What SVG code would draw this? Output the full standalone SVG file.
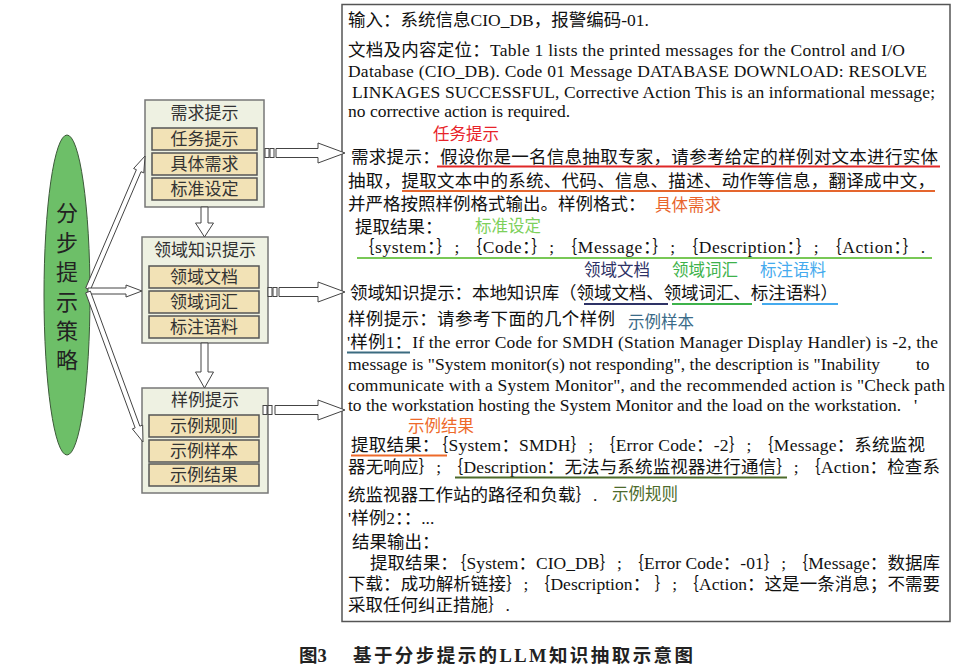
<svg xmlns="http://www.w3.org/2000/svg" width="975" height="671" viewBox="0 0 975 671">
<style>
.t{font-family:"Liberation Serif","Noto Sans CJK SC",serif;font-size:17.5px;fill:#111}
.lb{font-family:"Noto Sans CJK SC",sans-serif;font-size:16.5px}
.bx{font-family:"Liberation Serif","Noto Sans CJK SC",serif;font-size:17px;fill:#333;text-anchor:middle}
.outer{fill:#eef1e2;stroke:#777;stroke-width:1.5}
.sub{fill:#f2e2b6;stroke:#555;stroke-width:1.5}
.arr{fill:#fff;stroke:#444;stroke-width:1}
.ul{stroke-width:2;fill:none}
.cap{font-family:"Liberation Serif","Noto Sans CJK SC",serif;font-size:18.5px;font-weight:bold;fill:#222}
</style>
<rect width="975" height="671" fill="#fff"/>

<g id="strategy">
<ellipse cx="67" cy="295" rx="23" ry="160" fill="#6dbf68" stroke="#3d5a3a" stroke-width="1"/>
<g font-family="Liberation Serif,Noto Sans CJK SC,serif" font-size="22" fill="#222" text-anchor="middle">
<text x="67" y="221">分</text>
<text x="67" y="251">步</text>
<text x="67" y="280">提</text>
<text x="67" y="310">示</text>
<text x="67" y="339">策</text>
<text x="67" y="368">略</text>
</g>
</g>

<g id="box-demand">
<rect class="outer" x="145" y="100" width="119" height="107"/>
<text class="bx" x="204.5" y="119">需求提示</text>
<rect class="sub" x="152" y="128" width="105" height="22"/>
<text class="bx" x="204.5" y="145">任务提示</text>
<rect class="sub" x="152" y="153" width="105" height="22"/>
<text class="bx" x="204.5" y="170">具体需求</text>
<rect class="sub" x="152" y="178" width="105" height="22"/>
<text class="bx" x="204.5" y="195">标准设定</text>
</g>

<g id="box-domain">
<rect class="outer" x="142" y="237" width="126" height="106"/>
<text class="bx" x="205" y="256">领域知识提示</text>
<rect class="sub" x="149" y="266" width="110" height="22"/>
<text class="bx" x="204" y="283">领域文档</text>
<rect class="sub" x="149" y="291" width="110" height="22"/>
<text class="bx" x="204" y="308">领域词汇</text>
<rect class="sub" x="149" y="316" width="110" height="22"/>
<text class="bx" x="204" y="333">标注语料</text>
</g>

<g id="box-example">
<rect class="outer" x="142" y="388" width="126" height="105"/>
<text class="bx" x="205" y="406">样例提示</text>
<rect class="sub" x="149" y="415" width="110" height="22"/>
<text class="bx" x="204" y="432">示例规则</text>
<rect class="sub" x="149" y="440" width="110" height="22"/>
<text class="bx" x="204" y="457">示例样本</text>
<rect class="sub" x="149" y="464" width="110" height="22"/>
<text class="bx" x="204" y="481">示例结果</text>
</g>

<g id="prompt-text">
<rect x="342" y="4.5" width="608" height="617" fill="#fff" stroke="#555" stroke-width="1.5"/>
<text class="t" x="348" y="26">输入：系统信息CIO_DB，报警编码-01.</text>
<text class="t" x="348" y="56" textLength="557" lengthAdjust="spacing">文档及内容定位：Table 1 lists the printed messages for the Control and I/O</text>
<text class="t" x="348" y="77" textLength="579" lengthAdjust="spacing">Database  (CIO_DB). Code 01 Message DATABASE DOWNLOAD: RESOLVE</text>
<text class="t" x="352" y="98" textLength="583" lengthAdjust="spacing">LINKAGES SUCCESSFUL, Corrective Action This is an informational message;</text>
<text class="t" x="348" y="117">no corrective action is required.</text>
<text class="lb" x="433" y="140" fill="#e8232a">任务提示</text>
<text class="t" x="351" y="163" textLength="587" lengthAdjust="spacing">需求提示：假设你是一名信息抽取专家，请参考给定的样例对文本进行实体</text>
<line class="ul" x1="437" y1="166.5" x2="940" y2="166.5" stroke="#e02828"/>
<text class="t" x="348" y="187" textLength="587" lengthAdjust="spacing">抽取，提取文本中的系统、代码、信息、描述、动作等信息，翻译成中文，</text>
<line class="ul" x1="402" y1="191" x2="935" y2="191" stroke="#e5662e"/>
<text class="t" x="348" y="210">并严格按照样例格式输出。样例格式：</text>
<text class="lb" x="655" y="211" fill="#e8642c">具体需求</text>
<text class="t" x="355" y="233">提取结果：</text>
<text class="lb" x="475" y="232" fill="#7dd05a">标准设定</text>
<text class="t" x="357" y="253" textLength="568" lengthAdjust="spacing">｛system：｝; ｛Code：｝; ｛Message：｝; ｛Description：｝; ｛Action：｝.</text>
<line class="ul" x1="357" y1="258" x2="932" y2="258" stroke="#78c856"/>
<text class="lb" x="584" y="276" fill="#2e3266">领域文档</text>
<text class="lb" x="672" y="276" fill="#3db24b">领域词汇</text>
<text class="lb" x="760" y="276" fill="#45aaee">标注语料</text>
<text class="t" x="350" y="299" textLength="488" lengthAdjust="spacing">领域知识提示：本地知识库（领域文档、领域词汇、标注语料）</text>
<line class="ul" x1="584" y1="304" x2="668" y2="304" stroke="#2e3266"/>
<line class="ul" x1="672" y1="304" x2="752" y2="304" stroke="#3db24b"/>
<line class="ul" x1="762" y1="304" x2="838" y2="304" stroke="#45aaee"/>
<text class="t" x="348" y="325" textLength="267" lengthAdjust="spacing">样例提示：请参考下面的几个样例</text>
<text class="lb" x="628" y="328" fill="#3b6b88">示例样本</text>
<text class="t" x="347" y="348" textLength="591" lengthAdjust="spacing">'样例1：If the error Code for SMDH (Station Manager Display Handler) is -2, the</text>
<line class="ul" x1="347" y1="352.5" x2="410" y2="352.5" stroke="#3b6b80"/>
<text class="t" x="348" y="370" textLength="532" lengthAdjust="spacing">message is "System monitor(s) not responding", the description is "Inability</text>
<text class="t" x="916" y="370">to</text>
<text class="t" x="348" y="391" textLength="597" lengthAdjust="spacing">communicate with a System Monitor", and the recommended action is "Check path</text>
<text class="t" x="348" y="411" textLength="553" lengthAdjust="spacing">to the workstation hosting the System Monitor and the load on the workstation.</text>
<text class="t" x="914" y="411">'</text>
<text class="lb" x="408" y="432" fill="#ee6a2a">示例结果</text>
<text class="t" x="351" y="451" textLength="574" lengthAdjust="spacing">提取结果：｛System：SMDH｝; ｛Error Code：-2｝; ｛Message：系统监视</text>
<line class="ul" x1="351" y1="455.5" x2="447" y2="455.5" stroke="#ee6a2a"/>
<text class="t" x="348" y="473" textLength="592" lengthAdjust="spacing">器无响应｝; ｛Description：无法与系统监视器进行通信｝; ｛Action：检查系</text>
<line class="ul" x1="455" y1="477.5" x2="787" y2="477.5" stroke="#4d6b2b"/>
<text class="t" x="348" y="501">统监视器工作站的路径和负载｝.</text>
<text class="lb" x="612" y="500" fill="#4d6b2b">示例规则</text>
<text class="t" x="348" y="524">'样例2：：...</text>
<text class="t" x="352" y="548">结果输出：</text>
<text class="t" x="370" y="569" textLength="570" lengthAdjust="spacing">提取结果：｛System：CIO_DB｝; ｛Error Code：-01｝; ｛Message：数据库</text>
<text class="t" x="348" y="590" textLength="592" lengthAdjust="spacing">下载：成功解析链接｝; ｛Description：  ｝; ｛Action：这是一条消息；不需要</text>
<text class="t" x="348" y="611">采取任何纠正措施｝.</text>
</g>

<g id="connectors">
<polygon class="arr" points="90.3,290 141,171.7 143.8,172.9 145,156 133.6,168.5 136.4,169.7 85.7,288"/>
<polygon class="arr" points="88,288 126,288 126,285 142,291 126,297 126,294 88,294"/>
<polygon class="arr" points="85.65,292.86 135.15,427.86 132.34,428.89 143,442 142.66,425.11 139.85,426.14 90.35,291.14"/>
<polygon class="arr" points="201,207 208,207 208,223 213.5,223 204.5,237 195.5,223 201,223"/>
<polygon class="arr" points="201,343 208,343 208,372 213.5,372 204.5,388 195.5,372 201,372"/>
<rect class="arr" x="265" y="148.5" width="4" height="9"/>
<rect class="arr" x="270" y="148.5" width="4" height="9"/>
<polygon class="arr" points="276,148.5 318,148.5 318,143 345,153 318,163 318,157.5 276,157.5"/>
<rect class="arr" x="268" y="287.5" width="4" height="9"/>
<rect class="arr" x="273" y="287.5" width="4" height="9"/>
<polygon class="arr" points="279,287.5 318,287.5 318,282 345,292 318,302 318,296.5 279,296.5"/>
<rect class="arr" x="263" y="405.5" width="4" height="9"/>
<rect class="arr" x="268" y="405.5" width="4" height="9"/>
<polygon class="arr" points="275,405.5 318,405.5 318,400 345,410 318,420 318,414.5 275,414.5"/>
</g>

<g id="caption">
<text class="cap" x="299" y="662">图3</text>
<text class="cap" x="353" y="662" textLength="340" lengthAdjust="spacing">基于分步提示的LLM知识抽取示意图</text>
</g>
</svg>
